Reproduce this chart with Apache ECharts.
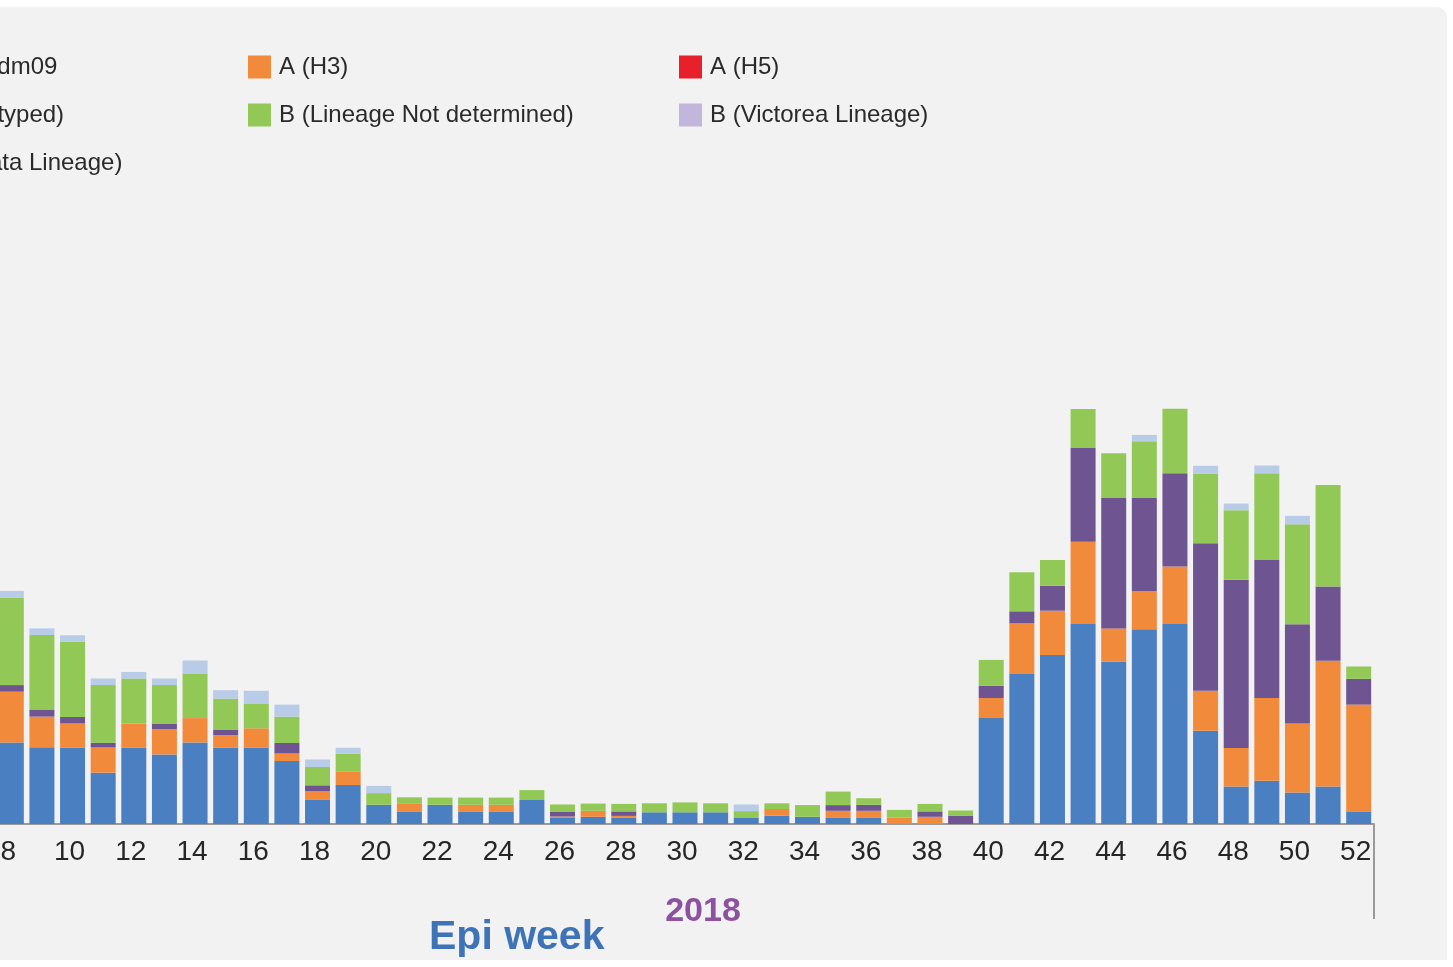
<!DOCTYPE html>
<html>
<head>
<meta charset="utf-8">
<script src="https://cdn.jsdelivr.net/npm/echarts@6/dist/echarts.min.js"></script>
<style>
  html, body { margin: 0; padding: 0; background: #ffffff; width: 1453px; height: 967px; overflow: hidden; position: relative; }
  #panel { position: absolute; left: 0; top: 7px; width: 1447px; height: 953px; background: #f2f2f2; border-top-right-radius: 10px; }
  #chart { position: absolute; left: -40px; top: 0; width: 1493px; height: 967px; }
</style>
</head>
<body>
<div id="panel"></div>
<div id="chart"></div>
<script>
const weeks = [8,9,10,11,12,13,14,15,16,17,18,19,20,21,22,23,24,25,26,27,28,29,30,31,32,33,34,35,36,37,38,39,40,41,42,43,44,45,46,47,48,49,50,51,52];
const yearLabels = ['2018'];
const seriesNames = ['A (H1N1)pdm09','A (H3)','A (H5)','A (Not subtyped)','B (Lineage Not determined)','B (Victorea Lineage)','B (Yamagata Lineage)'];
const seriesColors = ['#4a7fc1','#f28a3b','#e8202a','#6f5492','#92c856','#c3b6dc','#b8cbe7'];

const h1n1   = [27.2,25.6,25.4,17.1,25.4,23.2,27.2,25.4,25.4,21,8.2,13,6.4,4.2,6.4,4.2,4.2,8,2,2.4,2.2,3.9,3.9,3.9,2,2.8,2.4,2.2,2.2,0,0,0,35.3,50,56.3,66.7,54.2,64.9,66.7,31.1,12.5,14.4,10.5,12.5,4.2];
const h3     = [16.9,10.2,8.1,8.4,8.1,8.4,8.1,4.2,6.5,2.5,2.7,4.4,0,2.5,0,2.2,2.2,0,0.5,2,0.5,0,0,0,0,2.2,0,2.2,2.2,2.2,2.4,0,6.7,16.9,14.8,27.4,11,12.7,19.1,13.3,12.8,27.6,23,41.9,35.6];
const h5     = [0,0,0,0,0,0,0,0,0,0,0,0,0,0,0,0,0,0,0,0,0,0,0,0,0,0,0,0,0,0,0,0,0,0,0,0,0,0,0,0,0,0,0,0,0];
const notSub = [2.2,2.2,2.2,1.6,0,1.9,0,1.9,0,3.5,2,0,0,0,0,0,0,0,1.5,0,1.5,0,0,0,0,0,0,1.9,2,0,1.8,2.8,4.1,4,8.3,31.2,43.5,31.1,31.1,49.2,56.1,46,33.1,24.8,8.6];
const bNotDet= [29.2,25,25,19.2,15,12.8,14.7,10.3,8.1,8.8,6.1,6.1,3.9,2.2,2.4,2.4,2.4,3.3,2.5,2.4,2.5,3,3.3,3,2.3,1.9,3.9,4.5,2.2,2.5,2.5,1.7,8.6,13,8.6,13,14.9,18.9,21.5,23.2,23.2,28.9,33.3,33.8,4.1];
const bVic   = [0,0,0,0,0,0,0,0,0,0,0,0,0,0,0,0,0,0,0,0,0,0,0,0,0,0,0,0,0,0,0,0,0,0,0,0,0,0,0,0,0,0,0,0,0];
const bYam   = [2.2,2.2,2.2,2.2,2.2,2.2,4.5,2.8,4.4,4,2.5,1.9,2.4,0,0,0,0,0,0,0,0,0,0,0,2.2,0,0,0,0,0,0,0,0,0,0,0,0,2.1,0,2.6,2.2,2.6,2.8,0,0];

const allData = [h1n1,h3,h5,notSub,bNotDet,bVic,bYam];

const chart = echarts.init(document.getElementById('chart'), null, {renderer: 'canvas'});
const FONT = '"Liberation Sans", Arial, Helvetica, sans-serif';

const legendBase = {
  orient: 'vertical',
  top: 55,
  padding: 0,
  itemWidth: 23,
  itemHeight: 23,
  itemGap: 24,
  icon: 'rect',
  selectedMode: false,
  textStyle: { fontFamily: FONT, fontSize: 24, color: '#2a2a2a', padding: [0,0,0,3] }
};

const option = {
  backgroundColor: 'transparent',
  animation: false,
  title: {
    text: 'Epi week',
    left: 469,
    top: 917,
    padding: 0,
    textStyle: { fontFamily: FONT, fontSize: 41, fontWeight: 'bold', color: '#3e73b8' }
  },
  legend: [
    Object.assign({}, legendBase, { left: -107, data: [seriesNames[0], seriesNames[3], seriesNames[6]] }),
    Object.assign({}, legendBase, { left: 288, data: [seriesNames[1], seriesNames[4]] }),
    Object.assign({}, legendBase, { left: 719, data: [seriesNames[2], seriesNames[5]] })
  ],
  grid: { left: 36, right: 79, top: 224, bottom: 143, containLabel: false },
  xAxis: [
    {
      type: 'category',
      data: weeks,
      position: 'bottom',
      axisLine: { show: true, lineStyle: { color: '#9a9a9a', width: 2 } },
      axisTick: { show: false },
      axisLabel: { interval: 1, margin: 14, padding: [0,6,0,0], fontFamily: FONT, fontSize: 28, color: '#262626' }
    },
    {
      type: 'category',
      data: yearLabels,
      position: 'bottom',
      offset: 0,
      axisLine: { show: false },
      axisTick: { show: true, length: 95, lineStyle: { color: '#9a9a9a', width: 2 } },
      axisLabel: { margin: 71, padding: [0,0,0,36], fontFamily: FONT, fontSize: 34, fontWeight: 'bold', color: '#8c51a0' }
    }
  ],
  yAxis: {
    type: 'value',
    min: 0,
    max: 200,
    show: false,
    splitLine: { show: false }
  },
  series: seriesNames.map((name, i) => ({
    name: name,
    type: 'bar',
    stack: 'total',
    xAxisIndex: 0,
    barWidth: 25,
    itemStyle: { color: seriesColors[i] },
    data: allData[i]
  }))
};
chart.setOption(option);
</script>
</body>
</html>
